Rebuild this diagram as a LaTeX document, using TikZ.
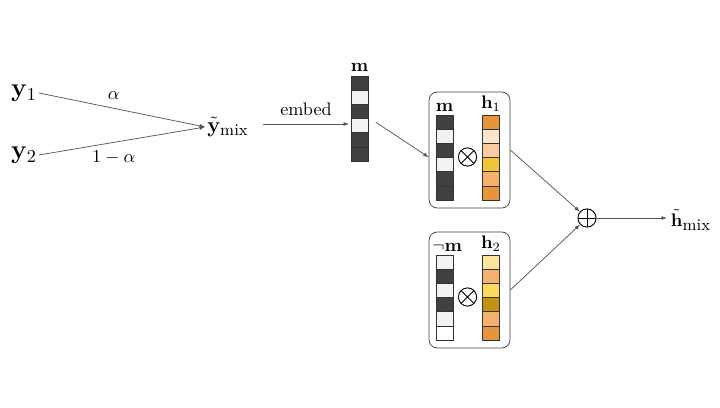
\documentclass[tikz,border=0pt]{standalone}
\usepackage{amsmath}
\usepackage{tikz}
\usetikzlibrary{arrows.meta,positioning,fit,calc}
\definecolor{mdark}{HTML}{404040}
\definecolor{mlight}{HTML}{F2F2F2}
\definecolor{mwhite}{HTML}{FFFFFF}
\definecolor{hdeep}{HTML}{E8943A}
\definecolor{hpeach}{HTML}{FDE6CC}
\definecolor{hsand}{HTML}{F9CBA0}
\definecolor{hgold}{HTML}{F2C633}
\definecolor{htan}{HTML}{F7B16E}
\definecolor{hcream}{HTML}{FDE59C}
\definecolor{hsun}{HTML}{FDD95D}
\definecolor{hochre}{HTML}{C09412}
\definecolor{wire}{HTML}{555555}
\tikzset{
  cell/.style={draw=black!80,line width=0.4pt,minimum width=9.2pt,minimum height=7.8pt,inner sep=0pt},
  panel/.style={draw=black!75,rounded corners=4.5pt,minimum width=44.5pt,minimum height=63.8pt,inner sep=0pt},
  link/.style={-{Latex[length=3pt,width=2.2pt]},line width=0.4pt,draw=wire},
  mixop/.style={circle,draw=black,line width=0.5pt,minimum size=10pt,inner sep=0pt},
  addop/.style={mixop,path picture={\draw (path picture bounding box.north) -- (path picture bounding box.south)
    (path picture bounding box.west) -- (path picture bounding box.east);}},
  mulop/.style={mixop,path picture={\draw (path picture bounding box.north west) -- (path picture bounding box.south east)
    (path picture bounding box.south west) -- (path picture bounding box.north east);}},
  veclab/.style={font=\normalsize,inner sep=1pt},
}
\begin{document}
\begin{tikzpicture}[x=0.55pt,y=-0.55pt]
  \useasboundingbox (0,0) rectangle (720,408);
  % inputs and mixing
  \node[font=\Large,inner sep=1pt] (y1) at (24,93) {$\mathbf{y}_1$};
  \node[font=\Large,inner sep=1pt] (y2) at (24,155) {$\mathbf{y}_2$};
  \node[font=\large,inner sep=1pt] (ymix) at (228,127) {$\tilde{\mathbf{y}}_{\mbox{\small mix}}$};
  \draw[link] (y1.east) -- node[pos=0.45,above=1.5pt] {$\alpha$} (ymix.west);
  \draw[link] (y2.east) -- node[pos=0.45,below=1pt] {$1-\alpha$} (ymix.west);
  % embedded mask
  \foreach \c [count=\i] in {mdark,mlight,mdark,mlight,mdark,mdark}
    \node[cell,fill=\c] (em\i) at (359.5,{76+7.1+(\i-1)*14.2}) {};
  \node[fit=(em1)(em6),inner sep=0pt] (mcol) {};
  \node[veclab,above=1pt of mcol] (mtop) {$\mathbf{m}$};
  \coordinate (e0) at (263,124);
  \coordinate (e1) at (349,124);
  \draw[link] (e0) -- node[above=1pt] {embed} (e1);
  % first panel
  \node[panel] (box1) at (469.5,150) {};
  \foreach \c [count=\i] in {mdark,mlight,mdark,mlight,mdark,mdark}
    \node[cell,fill=\c] (am\i) at (444.5,{115+7.1+(\i-1)*14.2}) {};
  \foreach \c [count=\i] in {hdeep,hpeach,hsand,hgold,htan,hdeep}
    \node[cell,fill=\c] (ah\i) at (491,{115+7.1+(\i-1)*14.2}) {};
  \node[veclab,above=0.5pt of am1] (amlab) {$\mathbf{m}$};
  \node[veclab,above=0.5pt of ah1] (ahlab) {$\mathbf{h}_1$};
  \node[mulop] (aprod) at (467.5,157) {};
  % second panel
  \node[panel] (box2) at (469.5,290) {};
  \foreach \c [count=\i] in {mlight,mdark,mlight,mdark,mlight,mwhite}
    \node[cell,fill=\c] (bm\i) at (444.5,{255+7.1+(\i-1)*14.2}) {};
  \foreach \c [count=\i] in {hcream,htan,hsun,hochre,htan,hdeep}
    \node[cell,fill=\c] (bh\i) at (491,{255+7.1+(\i-1)*14.2}) {};
  \node[veclab,above=0.5pt of bm1,xshift=1.5pt] (bmlab) {$\neg\mathbf{m}$};
  \node[veclab,above=0.5pt of bh1] (bhlab) {$\mathbf{h}_2$};
  \node[mulop] (bprod) at (467.5,297) {};
  \draw[link] ($(mcol.east)+(4pt,-2pt)$) -- ($(box1.west)+(0,-4pt)$);
  % sum
  \node[addop] (sum) at (587,218) {};
  \node[inner sep=2pt] (hmix) at (691,220) {$\tilde{\mathbf{h}}_{\mbox{\small mix}}$};
  \draw[link] (box1.east) -- (sum);
  \draw[link] (box2.east) -- (sum);
  \draw[link] (sum.east) -- (sum.east -| hmix.west);
\end{tikzpicture}
\end{document}
